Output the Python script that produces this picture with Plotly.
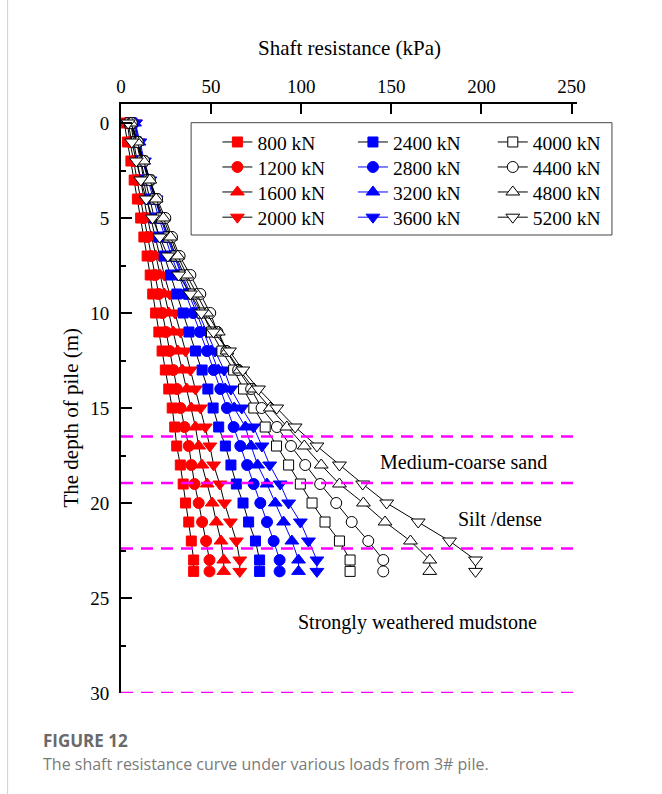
import plotly.graph_objects as go

# Depth of each measurement section along the pile (m)
depths = [0, 1, 2, 3, 4, 5, 6, 7, 8, 9, 10, 11, 12, 13, 14, 15, 16, 17, 18, 19, 20, 21, 22, 23, 23.6]

# Shaft resistance (kPa) at each depth for every load step
s800 = [1.8, 3.6, 5.5, 7.3, 9.1, 10.9, 12.7, 14.5, 16.2, 17.6, 19.2, 21.0, 22.8, 24.6, 26.5, 28.4, 29.8, 30.9, 32.9, 34.5, 35.8, 37.6, 39.0, 40.3, 40.3]
s1200 = [3.5, 5.0, 7.0, 8.8, 10.8, 12.8, 14.8, 16.8, 19.0, 21.0, 23.0, 25.0, 27.0, 29.0, 31.0, 33.0, 35.2, 37.6, 39.0, 40.8, 43.1, 45.0, 47.2, 49.1, 49.1]
s1600 = [5.5, 7.0, 9.0, 10.8, 12.7, 14.7, 17.0, 19.3, 21.6, 24.0, 26.5, 29.0, 31.5, 34.0, 36.5, 39.0, 41.3, 43.1, 44.9, 47.8, 50.6, 52.9, 55.5, 57.0, 57.0]
s2000 = [8.0, 9.5, 11.0, 12.5, 14.5, 16.5, 19.0, 21.5, 24.0, 27.0, 30.0, 33.0, 35.8, 38.5, 41.3, 44.1, 46.8, 49.3, 51.4, 54.8, 57.4, 60.7, 64.0, 65.9, 65.9]
s2400 = [6.0, 8.5, 11.0, 13.5, 16.0, 18.5, 21.0, 24.0, 27.5, 31.0, 34.5, 37.7, 41.3, 45.0, 48.2, 51.1, 54.2, 57.9, 61.0, 64.0, 67.7, 70.8, 74.6, 76.9, 76.9]
s2800 = [7.0, 9.5, 12.0, 15.0, 18.0, 21.0, 24.5, 28.0, 32.0, 36.0, 40.0, 43.7, 47.7, 51.4, 55.1, 58.8, 62.5, 66.2, 70.0, 73.6, 77.3, 81.0, 84.7, 88.0, 88.0]
s3200 = [7.5, 10.0, 12.5, 15.5, 19.0, 22.0, 25.5, 29.5, 33.5, 37.5, 42.0, 46.0, 50.0, 54.0, 57.8, 62.8, 69.0, 72.2, 75.8, 81.0, 85.6, 90.2, 94.8, 98.5, 98.5]
s3600 = [8.0, 10.5, 13.0, 16.0, 19.5, 22.5, 26.0, 30.0, 34.0, 38.5, 43.0, 47.5, 52.2, 57.2, 61.0, 67.0, 73.5, 78.2, 82.5, 88.3, 93.0, 99.5, 104.0, 108.7, 108.7]
s4000 = [5.0, 8.5, 12.0, 15.5, 19.0, 22.5, 26.5, 30.5, 35.0, 40.0, 45.0, 50.2, 56.0, 62.5, 68.0, 73.7, 80.0, 86.3, 93.0, 99.5, 106.0, 113.2, 121.2, 127.1, 127.1]
s4400 = [6.0, 9.3, 12.8, 16.0, 20.0, 24.6, 28.3, 32.5, 38.5, 44.0, 49.5, 53.5, 58.5, 65.0, 72.2, 78.0, 86.5, 94.3, 102.2, 110.5, 119.4, 128.0, 137.2, 145.5, 145.5]
s4800 = [5.5, 9.0, 12.5, 16.0, 19.5, 23.5, 27.5, 31.5, 36.5, 42.0, 47.5, 54.0, 58.8, 65.8, 73.8, 82.8, 92.0, 101.7, 111.1, 121.2, 134.5, 146.5, 160.6, 171.3, 171.3]
s5200 = [4.0, 6.0, 8.5, 11.0, 14.0, 17.5, 21.5, 26.0, 32.0, 38.5, 44.6, 51.3, 60.2, 67.6, 76.3, 86.4, 96.6, 108.7, 121.2, 134.1, 147.4, 164.9, 182.3, 196.7, 196.7]

load_labels = ["800 kN", "1200 kN", "1600 kN", "2000 kN",
               "2400 kN", "2800 kN", "3200 kN", "3600 kN",
               "4000 kN", "4400 kN", "4800 kN", "5200 kN"]
series = [s800, s1200, s1600, s2000, s2400, s2800, s3200, s3600,
          s4000, s4400, s4800, s5200]

# Soil layer boundaries (m) and layer names
layer_bounds = [16.5, 18.95, 22.4, 30]
layer_names = ["Medium-coarse sand", "Silt /dense", "Strongly weathered mudstone"]
layer_label_x = [189.8, 210.2, 164.3]
layer_label_y = [17.84, 20.84, 26.3]

x_ticks = [0, 50, 100, 150, 200, 250]
y_ticks = [0, 5, 10, 15, 20, 25, 30]

SERIF = "Liberation Serif"

symbols = ["square", "circle", "triangle-up", "triangle-down"]
sizes = [10, 11, 12, 12]

# Pixel geometry used to convert to paper coordinates
PL, PW = 120.5, 456.5     # plot left, plot width
PB, PH = 693.0, 589.0     # plot bottom, plot height


def px_x(p):
    return (p - PL) / PW


def px_y(p):
    return (PB - p) / PH


# One small legend per entry, laid out as a 3-column grid
leg_cols_px = [217.0, 352.7, 492.7]
leg_rows_px = [122.8, 147.8, 172.8, 198.0]
LEG_FONT = 19.5

fig = go.Figure()
layout_legends = {}
for i, (lab, vals) in enumerate(zip(load_labels, series)):
    grp = i // 4
    k = i % 4
    if grp == 0:
        mcol, mline, lcol = "#ff0000", "#ff0000", "#000000"
    elif grp == 1:
        mcol, mline = "#0000ff", "#0000ff"
        lcol = "#000000" if k == 0 else "#0000ff"
    else:
        mcol, mline, lcol = "#ffffff", "#000000", "#000000"
    leg_name = "legend" if i == 0 else f"legend{i + 1}"
    fig.add_trace(go.Scatter(
        x=vals, y=depths, mode="lines+markers", name=lab,
        line=dict(color=lcol, width=1),
        marker=dict(symbol=symbols[k], size=sizes[k], color=mcol,
                    line=dict(color=mline, width=1)),
        legend=leg_name, showlegend=True,
    ))
    layout_legends[leg_name] = dict(
        x=px_x(leg_cols_px[grp]), y=px_y(leg_rows_px[k]),
        xanchor="left", yanchor="top", orientation="v",
        bgcolor="rgba(0,0,0,0)", borderwidth=0,
        font=dict(family=SERIF, size=LEG_FONT, color="#000"))

# Dashed layer boundaries
for d in layer_bounds:
    fig.add_shape(type="line", xref="paper", yref="y", x0=0, x1=1, y0=d, y1=d,
                  line=dict(color="#ff00ff", width=2.5, dash="12px,8px"))

for name, lx, ly in zip(layer_names, layer_label_x, layer_label_y):
    fig.add_annotation(x=lx, y=ly, xref="x", yref="y", text=name, showarrow=False,
                       xanchor="center", yanchor="middle",
                       font=dict(family=SERIF, size=20, color="#000"))

# Legend frame
fig.add_shape(type="rect", xref="paper", yref="paper",
              x0=px_x(190.7), x1=px_x(612.0), y0=px_y(235.0), y1=px_y(122.7),
              line=dict(color="#444", width=1), fillcolor="rgba(0,0,0,0)", layer="above")

# Page border on the left
fig.add_shape(type="line", xref="paper", yref="paper", x0=px_x(7), x1=px_x(7),
              y0=px_y(794), y1=px_y(0), line=dict(color="#d0d0d0", width=1))

# Axis titles
fig.add_annotation(x=px_x(349), y=px_y(48), xref="paper", yref="paper",
                   xanchor="center", yanchor="middle",
                   text="Shaft resistance (kPa)", showarrow=False,
                   font=dict(family=SERIF, size=21, color="#000"))
fig.add_annotation(x=px_x(70), y=px_y(418), xref="paper", yref="paper",
                   xanchor="center", yanchor="middle",
                   text="The depth of pile (m)", showarrow=False, textangle=-90,
                   font=dict(family=SERIF, size=21, color="#000"))

# Caption
fig.add_annotation(x=px_x(40), y=px_y(740), xref="paper", yref="paper",
                   xanchor="left", yanchor="middle",
                   text="<b>FIGURE 12</b>", showarrow=False,
                   font=dict(family="Open Sans", size=17, color="#6a6a6a"))
fig.add_annotation(x=px_x(40), y=px_y(764), xref="paper", yref="paper",
                   xanchor="left", yanchor="middle",
                   text="The shaft resistance curve under various loads from 3# pile.",
                   showarrow=False,
                   font=dict(family="Open Sans", size=16, color="#7a7a7a"))

fig.update_layout(
    width=662, height=794, showlegend=True,
    margin=dict(l=PL, r=662 - PL - PW, t=PB - PH, b=794 - PB),
    paper_bgcolor="#ffffff", plot_bgcolor="#ffffff",
    xaxis=dict(side="top", range=[0, 253], tickvals=x_ticks,
               ticks="inside", ticklen=10, tickwidth=1.5, tickcolor="#000",
               showline=True, linecolor="#000", linewidth=2, showgrid=False,
               zeroline=False, ticklabelstandoff=1,
               tickfont=dict(family=SERIF, size=19, color="#000")),
    yaxis=dict(range=[30, -1], tickvals=y_ticks,
               ticks="inside", ticklen=11, tickwidth=1.5, tickcolor="#000",
               minor=dict(dtick=2.5, ticks="inside", ticklen=5, tickwidth=1.5, tickcolor="#000"),
               showline=True, linecolor="#000", linewidth=2, showgrid=False,
               zeroline=False, ticklabelstandoff=6,
               tickfont=dict(family=SERIF, size=19, color="#000")),
    **layout_legends,
)

fig.write_html("out.html")
